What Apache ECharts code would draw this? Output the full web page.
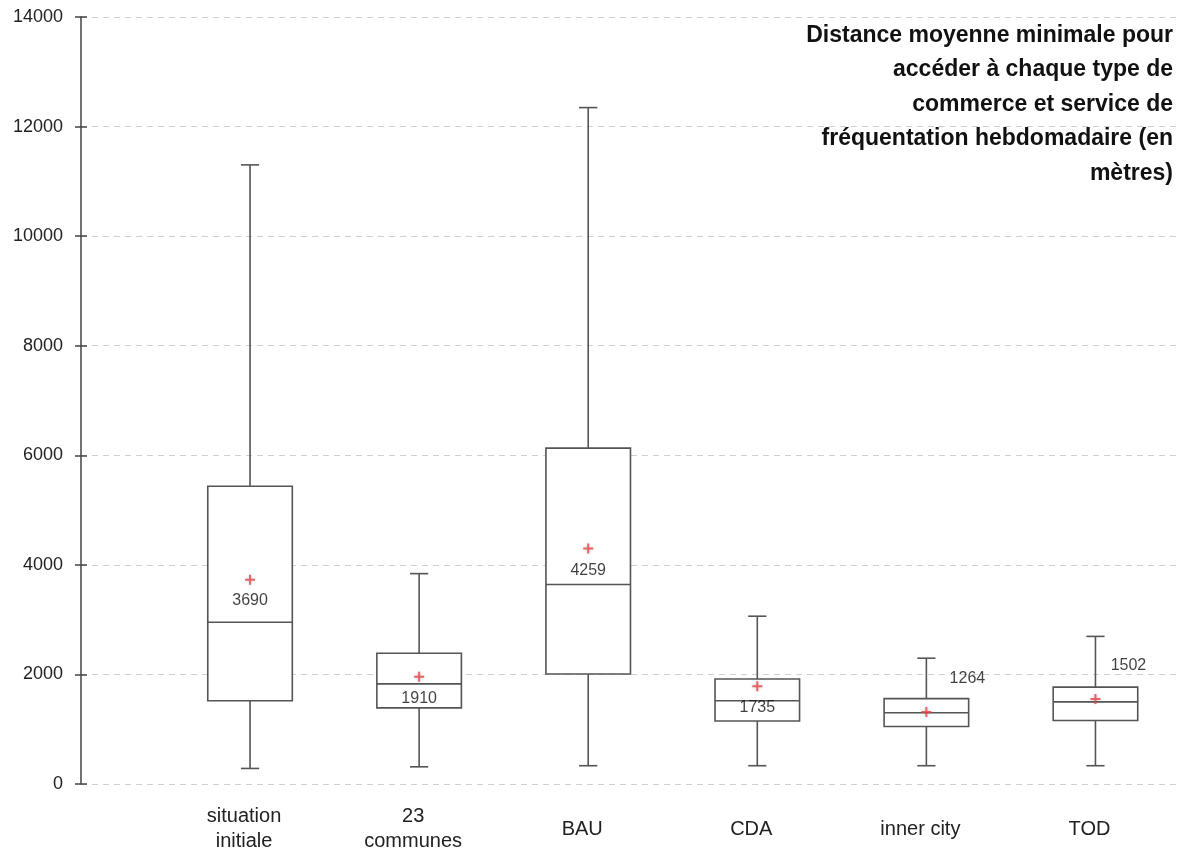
<!DOCTYPE html>
<html>
<head>
<meta charset="utf-8">
<script src="https://cdn.jsdelivr.net/npm/echarts@6/dist/echarts.min.js"></script>
<style>html,body{margin:0;padding:0;background:#fff;}#c{width:1187px;height:854px;}</style>
</head>
<body>
<div id="c"></div>
<script>
const categories = ['situation\ninitiale', '23\ncommunes', 'BAU', 'CDA', 'inner city', 'TOD'];
const whiskerLow = [230, 260, 280, 280, 280, 280];
const q1Values = [1470, 1340, 1960, 1100, 1000, 1110];
const medianValues = [2910, 1780, 3600, 1470, 1250, 1450];
const q3Values = [5400, 2340, 6100, 1870, 1510, 1720];
const whiskerHigh = [11290, 3800, 12340, 3020, 2250, 2650];
const meanValues = [3690, 1910, 4259, 1735, 1264, 1502];
const yMin = 0, yMax = 14000, yInterval = 2000;
const titleText = 'Distance moyenne minimale pour\naccéder à chaque type de\ncommerce et service de\nfréquentation hebdomadaire (en\nmètres)';

// label placement (style, not data)
const meanLabelOffsets = [[0, 21], [0, 22], [0, 22], [0, 21], [41, -33], [33, -33]];

const FONT = '"Liberation Sans", Arial, sans-serif';
const STROKE = '#555';

const boxData = categories.map((c, i) => [i, whiskerLow[i], q1Values[i], medianValues[i], q3Values[i], whiskerHigh[i]]);
const meanData = categories.map((c, i) => ({
  value: [i, meanValues[i]],
  label: { offset: meanLabelOffsets[i] }
}));

function renderBox(params, api) {
  const x = api.value(0);
  const pLow = api.coord([x, api.value(1)]);
  const pQ1 = api.coord([x, api.value(2)]);
  const pMed = api.coord([x, api.value(3)]);
  const pQ3 = api.coord([x, api.value(4)]);
  const pHigh = api.coord([x, api.value(5)]);
  const band = api.size([1, 0])[0];
  const bw = band * 0.5;
  const cap = bw * 0.215;
  const cx = pLow[0];
  const ls = { stroke: STROKE, lineWidth: 1.6, fill: null };
  return {
    type: 'group',
    children: [
      { type: 'line', shape: { x1: cx, y1: pHigh[1], x2: cx, y2: pQ3[1] }, style: ls },
      { type: 'line', shape: { x1: cx, y1: pQ1[1], x2: cx, y2: pLow[1] }, style: ls },
      { type: 'line', shape: { x1: cx - cap / 2, y1: pHigh[1], x2: cx + cap / 2, y2: pHigh[1] }, style: ls },
      { type: 'line', shape: { x1: cx - cap / 2, y1: pLow[1], x2: cx + cap / 2, y2: pLow[1] }, style: ls },
      { type: 'rect', shape: { x: cx - bw / 2, y: pQ3[1], width: bw, height: pQ1[1] - pQ3[1] }, style: { stroke: STROKE, lineWidth: 1.6, fill: '#fff' } },
      { type: 'line', shape: { x1: cx - bw / 2, y1: pMed[1], x2: cx + bw / 2, y2: pMed[1] }, style: ls }
    ]
  };
}

const chart = echarts.init(document.getElementById('c'), null, { renderer: 'canvas' });
chart.setOption({
  backgroundColor: '#fff',
  animation: false,
  graphic: [{
    type: 'text', x: 1173, y: 18, z: 10,
    style: {
      text: titleText, align: 'right', verticalAlign: 'top',
      font: 'bold 23px "Liberation Sans", Arial, sans-serif', lineHeight: 34.5, fill: '#111'
    }
  }],
  grid: [
    { left: 81, right: 7, top: 17, bottom: 70 },
    { left: 165.5, right: 7, top: 17, bottom: 70 }
  ],
  xAxis: [
    { type: 'value', gridIndex: 0, min: 0, max: 1, show: false },
    {
      type: 'category', gridIndex: 1, data: categories,
      axisLine: { show: false }, axisTick: { show: false },
      axisLabel: {
        fontFamily: FONT, fontSize: 20, lineHeight: 25, color: '#222',
        verticalAlign: 'middle', margin: 48, padding: [0, 12, 0, 0], interval: 0
      }
    }
  ],
  yAxis: [
    {
      type: 'value', gridIndex: 0, position: 'left', min: yMin, max: yMax, interval: yInterval,
      axisLine: { show: true, lineStyle: { color: '#444', width: 1.5 } },
      axisTick: { show: true, length: 6, lineStyle: { color: '#444', width: 1.5 } },
      axisLabel: { fontFamily: FONT, fontSize: 18, color: '#222', margin: 18, formatter: v => String(v) },
      splitLine: { show: true, lineStyle: { color: '#d0d0d0', type: [6, 5], width: 1.2 } }
    },
    {
      type: 'value', gridIndex: 0, position: 'left', offset: 0, min: yMin, max: yMax, interval: yInterval,
      axisLine: { show: false },
      axisTick: { show: true, inside: true, length: 6, lineStyle: { color: '#444', width: 1.5 } },
      axisLabel: { show: false }, splitLine: { show: false }
    },
    {
      type: 'value', gridIndex: 1, min: yMin, max: yMax, interval: yInterval, show: false,
      splitLine: { show: false }
    }
  ],
  series: [
    {
      type: 'custom', xAxisIndex: 1, yAxisIndex: 2,
      renderItem: renderBox,
      encode: { x: 0, y: [1, 2, 3, 4, 5] },
      data: boxData, z: 2
    },
    {
      type: 'scatter', xAxisIndex: 1, yAxisIndex: 2,
      symbol: 'path://M4,0h2v4h4v2h-4v4h-2v-4h-4v-2h4z',
      symbolSize: 10,
      itemStyle: { color: '#e8434a', shadowBlur: 3, shadowColor: 'rgba(0,0,0,0.25)' },
      label: {
        show: true, position: 'inside', fontFamily: FONT, fontSize: 16, color: '#111',
        formatter: p => String(p.value[1])
      },
      data: meanData, z: 3
    }
  ]
});
</script>
</body>
</html>
